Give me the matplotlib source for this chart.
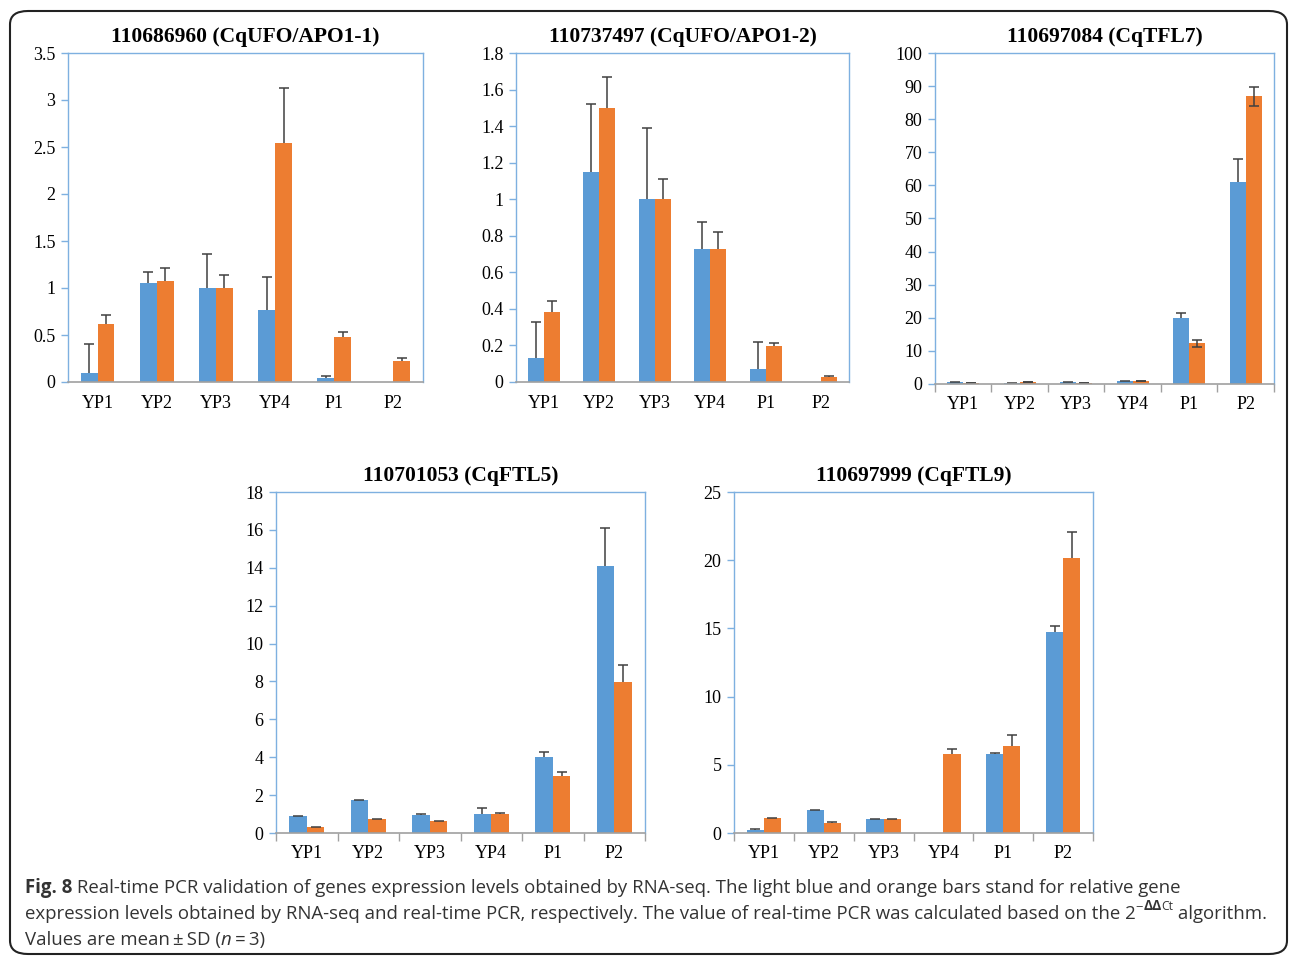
import numpy as np
import matplotlib
matplotlib.use("Agg")
import matplotlib.pyplot as plt
from matplotlib.patches import FancyBboxPatch
from matplotlib.ticker import MultipleLocator, FormatStrFormatter

# sample names
samples = ["YP1", "YP2", "YP3", "YP4", "P1", "P2"]

# 110686960 (CqUFO/APO1-1)
ufo1_seq = [0.10, 1.05, 1.00, 0.77, 0.04, 0.0]
ufo1_seq_sd = [0.30, 0.12, 0.36, 0.35, 0.02, 0.0]
ufo1_pcr = [0.62, 1.07, 1.00, 2.54, 0.48, 0.22]
ufo1_pcr_sd = [0.09, 0.145, 0.14, 0.59, 0.057, 0.035]

# 110737497 (CqUFO/APO1-2)
ufo2_seq = [0.13, 1.15, 1.00, 0.73, 0.07, 0.0]
ufo2_seq_sd = [0.20, 0.37, 0.39, 0.147, 0.148, 0.0]
ufo2_pcr = [0.384, 1.50, 1.00, 0.725, 0.197, 0.026]
ufo2_pcr_sd = [0.06, 0.166, 0.11, 0.094, 0.019, 0.007]

# 110697084 (CqTFL7)
tfl7_seq = [0.5, 0.2, 0.5, 0.9, 19.9, 60.9]
tfl7_seq_sd = [0.1, 0.05, 0.1, 0.1, 1.5, 7.0]
tfl7_pcr = [0.3, 0.6, 0.3, 0.9, 12.3, 86.9]
tfl7_pcr_sd = [0.05, 0.1, 0.05, 0.1, 1.0, 2.9]

# 110701053 (CqFTL5)
ftl5_seq = [0.90, 1.72, 0.97, 1.02, 4.01, 14.08]
ftl5_seq_sd = [0.02, 0.02, 0.02, 0.30, 0.25, 2.04]
ftl5_pcr = [0.32, 0.72, 0.62, 1.02, 3.01, 7.97]
ftl5_pcr_sd = [0.01, 0.01, 0.01, 0.01, 0.23, 0.92]

# 110697999 (CqFTL9)
ftl9_seq = [0.24, 1.66, 1.00, 0.0, 5.82, 14.74]
ftl9_seq_sd = [0.02, 0.02, 0.02, 0.0, 0.02, 0.44]
ftl9_pcr = [1.08, 0.76, 1.00, 5.82, 6.40, 20.16]
ftl9_pcr_sd = [0.02, 0.02, 0.02, 0.34, 0.81, 1.91]

BLUE = "#5B9BD5"
ORANGE = "#ED7D31"
FRAME = "#7EB0E0"
GREY = "#A0A0A0"
ERR = "#404040"

plt.rcParams["font.family"] = ["Liberation Serif", "DejaVu Serif"]

fig = plt.figure(figsize=(12.9, 9.56), dpi=100)
W, H = 1290.0, 956.0


def px_axes(l, t, r, b):
    return fig.add_axes([l / W, 1 - b / H, (r - l) / W, (b - t) / H])


def draw_panel(ax, title, seq, seq_sd, pcr, pcr_sd, ymax, step, cat_ticks, both_sides=False):
    x = np.arange(len(samples))
    w = 1 / 3.5
    ax.bar(x - w / 2, seq, w, color=BLUE, zorder=2)
    ax.bar(x + w / 2, pcr, w, color=ORANGE, zorder=2)
    for off, vals, sd, two in [(-w / 2, seq, seq_sd, False), (w / 2, pcr, pcr_sd, both_sides)]:
        vals = np.array(vals)
        sd = np.array(sd)
        keep = sd > 0
        low = sd[keep] if two else np.zeros(keep.sum())
        eb = ax.errorbar(x[keep] + off, vals[keep], yerr=[low, sd[keep]], fmt="none",
                         ecolor=ERR, elinewidth=1.1, capsize=3.3, capthick=1.1, zorder=3)
        if not two:
            # plus-only bars: no cap at the bar top
            eb[1][0].set_visible(False)
    ax.set_xlim(-0.5, len(samples) - 0.5)
    ax.set_ylim(0, ymax)
    ax.yaxis.set_major_locator(MultipleLocator(step))
    ax.yaxis.set_major_formatter(FormatStrFormatter("%g"))
    ax.set_xticks(x)
    ax.set_xticklabels(samples)
    ax.tick_params(axis="x", length=0, pad=9, labelsize=13)
    ax.tick_params(axis="y", length=5, width=1, color=FRAME, pad=4, labelsize=13)
    if cat_ticks:
        ax.set_xticks(np.arange(len(samples) + 1) - 0.5, minor=True)
        ax.tick_params(axis="x", which="minor", length=6, width=1, color=GREY)
    for side in ["left", "top", "right"]:
        ax.spines[side].set_color(FRAME)
        ax.spines[side].set_linewidth(1.0)
    ax.spines["bottom"].set_color(GREY)
    ax.spines["bottom"].set_linewidth(1.2)
    ax.spines["bottom"].set_zorder(4)
    ax.set_title(title, fontsize=15.5, fontweight="bold", pad=8)


ax1 = px_axes(68, 53, 423, 382)
draw_panel(ax1, "110686960 (CqUFO/APO1-1)", ufo1_seq, ufo1_seq_sd, ufo1_pcr, ufo1_pcr_sd, 3.5, 0.5, False)
ax2 = px_axes(516, 53, 849, 382)
draw_panel(ax2, "110737497 (CqUFO/APO1-2)", ufo2_seq, ufo2_seq_sd, ufo2_pcr, ufo2_pcr_sd, 1.8, 0.2, False)
ax3 = px_axes(935, 53, 1274, 384)
draw_panel(ax3, "110697084 (CqTFL7)", tfl7_seq, tfl7_seq_sd, tfl7_pcr, tfl7_pcr_sd, 100, 10, True, both_sides=True)
ax4 = px_axes(276, 492, 645, 833)
draw_panel(ax4, "110701053 (CqFTL5)", ftl5_seq, ftl5_seq_sd, ftl5_pcr, ftl5_pcr_sd, 18, 2, True)
ax5 = px_axes(734, 492, 1093, 833)
draw_panel(ax5, "110697999 (CqFTL9)", ftl9_seq, ftl9_seq_sd, ftl9_pcr, ftl9_pcr_sd, 25, 5, True)

# rounded frame round the whole figure
frame = FancyBboxPatch((10 / W, 1 - 954 / H), 1277 / W, 943 / H,
                       boxstyle="round,pad=0,rounding_size=0.014",
                       transform=fig.transFigure, fill=False, edgecolor="#222222", linewidth=1.5)
fig.patches.append(frame)

# caption, drawn piece by piece
renderer = fig.canvas.get_renderer()
CAP = ["Open Sans", "DejaVu Sans"]
cap_size = 13.4


def write_line(pieces, x_px, y_px):
    x = x_px
    for txt, kw in pieces:
        dy = kw.pop("dy", 0)
        t = fig.text(x / W, 1 - (y_px - dy) / H, txt, family=CAP, va="baseline", ha="left",
                     color="#333333", **kw)
        x += t.get_window_extent(renderer).width
    return x


write_line([("Fig. 8", dict(fontsize=cap_size, fontweight="bold")),
            (" Real-time PCR validation of genes expression levels obtained by RNA-seq. The light blue and "
             "orange bars stand for relative gene", dict(fontsize=cap_size))], 25, 893)
write_line([("expression levels obtained by RNA-seq and real-time PCR, respectively. The value of real-time "
             "PCR was calculated based on the 2", dict(fontsize=cap_size)),
            ("\u2212", dict(fontsize=cap_size * 0.7, dy=9)),
            ("\u0394\u0394", dict(fontsize=cap_size * 0.75, fontweight="bold", dy=9)),
            ("Ct", dict(fontsize=cap_size * 0.65, dy=9)),
            (" algorithm.", dict(fontsize=cap_size))], 25, 919)
write_line([("Values are mean\u2009\u00b1\u2009SD (", dict(fontsize=cap_size)),
            ("n", dict(fontsize=cap_size, style="italic")),
            ("\u2009=\u20093)", dict(fontsize=cap_size))], 25, 945)

fig.savefig("out.png", dpi=100)
